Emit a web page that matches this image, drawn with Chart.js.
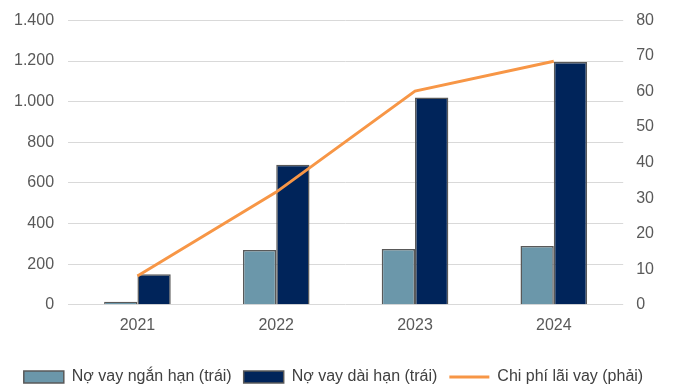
<!DOCTYPE html>
<html lang="vi">
<head>
  <meta charset="UTF-8">
  <title>Nợ vay và chi phí lãi vay</title>
  <style>
    body { margin: 0; background: #fff; }
    #wrap { width: 697px; height: 389px; }
  </style>
</head>
<body>
  <div id="wrap"><canvas id="myChart"></canvas></div>
  <script src="https://cdn.jsdelivr.net/npm/chart.js"></script>
  <script>
    const years = ['2021', '2022', '2023', '2024']
    const shortDebt = [15, 270, 275, 290]
    const longDebt = [150, 690, 1020, 1195]
    const interestCost = [8.1, 31.7, 60.1, 68.5]

    const font = { family: 'Liberation Sans, Arial, sans-serif', size: 16 }
    const axisFont = { family: 'Liberation Sans, Arial, sans-serif', size: 16, lineHeight: 0.8 }
    const tickColor = '#595959'

    new Chart(document.getElementById('myChart'), {
      data: {
        labels: years,
        datasets: [
          {
            type: 'line',
            label: 'Chi phí lãi vay (phải)',
            data: interestCost,
            yAxisID: 'y1',
            borderColor: '#f79646',
            backgroundColor: '#f79646',
            borderWidth: 3,
            pointRadius: 0,
            pointStyle: 'line',
            tension: 0,
            order: 0
          },
          {
            type: 'bar',
            label: 'Nợ vay ngắn hạn (trái)',
            data: shortDebt,
            yAxisID: 'y',
            backgroundColor: '#6b97aa',
            borderColor: '#595959',
            borderWidth: 1.5,
            pointStyle: 'rect',
            categoryPercentage: 0.48,
            barPercentage: 1,
            order: 1
          },
          {
            type: 'bar',
            label: 'Nợ vay dài hạn (trái)',
            data: longDebt,
            yAxisID: 'y',
            backgroundColor: '#00245a',
            borderColor: '#595959',
            borderWidth: 1.5,
            pointStyle: 'rect',
            categoryPercentage: 0.48,
            barPercentage: 1,
            order: 1
          }
        ]
      },
      options: {
        responsive: true,
        maintainAspectRatio: false,
        animation: false,
        layout: { padding: { top: 0, left: 0, right: 30, bottom: -6 } },
        plugins: {
          tooltip: { enabled: false },
          legend: {
            position: 'bottom',
            labels: {
              font: font,
              color: '#404040',
              usePointStyle: true,
              pointStyleWidth: 40,
              boxHeight: 12,
              padding: 12,
              // bars first, line last
              sort: (a, b) => (a.datasetIndex === 0) - (b.datasetIndex === 0) || a.datasetIndex - b.datasetIndex
            }
          }
        },
        scales: {
          x: {
            grid: { display: false, drawTicks: false },
            border: { display: false },
            ticks: { font: font, color: tickColor, padding: 11 },
            afterFit: scale => { scale.height += 11 }
          },
          y: {
            position: 'left',
            min: 0,
            max: 1400,
            grid: { color: '#d9d9d9', drawTicks: false },
            border: { display: false },
            ticks: {
              stepSize: 200,
              font: axisFont,
              color: tickColor,
              padding: 14,
              callback: v => v.toLocaleString('de-DE')
            }
          },
          y1: {
            position: 'right',
            min: 0,
            max: 80,
            grid: { display: false, drawTicks: false },
            border: { display: false },
            ticks: { stepSize: 10, font: axisFont, color: tickColor, padding: 13 }
          }
        }
      }
    })
  </script>
</body>
</html>
